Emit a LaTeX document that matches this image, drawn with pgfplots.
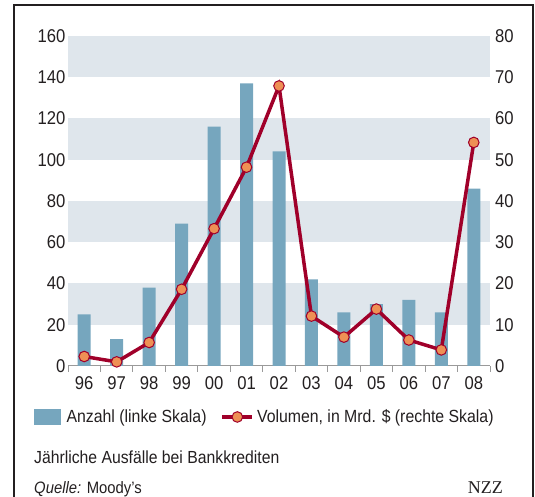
\documentclass[border=0pt]{standalone}
\usepackage{pgfplots}
\pgfplotsset{compat=1.18}
\usepackage{fontspec}
\setmainfont{Liberation Sans}[FakeStretch=0.9]
\newfontfamily\nzzfont{Liberation Serif}
\definecolor{bandcol}{HTML}{DFE6EC}
\definecolor{barcol}{HTML}{76A6BE}
\definecolor{linecol}{HTML}{A0002A}
\definecolor{markcol}{HTML}{EE9055}
\definecolor{txtcol}{HTML}{231F20}
\definecolor{axcol}{HTML}{9A9A9A}
\begin{document}
\begin{tikzpicture}[x=1pt,y=1pt]
\useasboundingbox (0,0) rectangle (535,497);
\draw[line width=2pt, color=txtcol] (14,0) -- (14,492) -- (532.5,492) -- (532.5,0);
\begin{axis}[
  at={(68pt,131pt)}, anchor=south west, scale only axis,
  width=422pt, height=330pt,
  xmin=-0.5, xmax=12.5, ymin=0, ymax=160,
  axis lines*=left,
  y axis line style={draw=none},
  x axis line style={draw=axcol, line width=1pt},
  tick align=outside,
  xtick={0,...,12},
  xticklabels={96,97,98,99,00,01,02,03,04,05,06,07,08},
  minor xtick={-0.5,0.5,...,12.5},
  major tick length=0pt,
  minor tick length=6pt,
  x tick style={draw=axcol, line width=1pt},
  ytick={0,20,...,160},
  /pgf/number format/assume math mode=true,
  ticklabel style={font=\fontsize{18.5}{20}\selectfont, text=txtcol},
  yticklabel style={inner sep=0pt, xshift=-2.3pt},
  xticklabel style={inner sep=0pt, yshift=-10.7pt},
]
\fill[bandcol] (axis cs:-0.5,20) rectangle (axis cs:12.5,40);
\fill[bandcol] (axis cs:-0.5,60) rectangle (axis cs:12.5,80);
\fill[bandcol] (axis cs:-0.5,100) rectangle (axis cs:12.5,120);
\fill[bandcol] (axis cs:-0.5,140) rectangle (axis cs:12.5,160);
\addplot[ybar, bar width=13pt, fill=barcol, draw=none] coordinates {
(0,25) (1,13) (2,38) (3,69) (4,116) (5,137) (6,104) (7,42) (8,26) (9,30) (10,32) (11,26) (12,86)};
\end{axis}
\begin{axis}[
  at={(68pt,131pt)}, anchor=south west, scale only axis,
  width=422pt, height=330pt,
  xmin=-0.5, xmax=12.5, ymin=0, ymax=80,
  axis x line=none,
  axis y line*=right,
  y axis line style={draw=none},
  major tick length=0pt,
  ytick={0,10,...,80},
  clip=false,
  /pgf/number format/assume math mode=true,
  ticklabel style={font=\fontsize{18.5}{20}\selectfont, text=txtcol},
  yticklabel style={inner sep=0pt, xshift=5pt},
  legend columns=2,
  legend style={at={(-0.0806,-0.1545)}, anchor=west, draw=none, fill=none,
    inner sep=0pt, font=\fontsize{17.6}{20}\selectfont, text=txtcol,
    nodes={inner xsep=3pt, inner ysep=0pt},
    /tikz/every even column/.append style={column sep=11pt}},
  legend cell align=left,
]
\addlegendimage{legend image code/.code={\fill[barcol] (0pt,-7.5pt) rectangle (26pt,7.5pt); \path (29pt,0pt);}}
\addlegendentry{Anzahl (linke Skala)}
\addplot[linecol, line width=3.5pt, mark=*, mark size=5.3pt,
  mark options={fill=markcol, draw=linecol, line width=1pt},
  legend image code/.code={\draw[linecol, line width=3.5pt] (0pt,0pt) -- (30pt,0pt);
    \draw[fill=markcol, draw=linecol, line width=1pt] (15pt,0pt) circle (5.3pt);}]
coordinates {
(0,2.3) (1,1.0) (2,5.7) (3,18.6) (4,33.3) (5,48.2) (6,67.9) (7,12.1) (8,7.0) (9,13.8) (10,6.3) (11,3.9) (12,54.2)};
\addlegendentry{Volumen, in Mrd. \$ (rechte Skala)}
\end{axis}
\node[anchor=base west, inner sep=0pt, text=txtcol, font=\fontsize{17.5}{20}\selectfont] at (34,33) {Jährliche Ausfälle bei Bankkrediten};
\node[anchor=base west, inner sep=0pt, text=txtcol, font=\fontsize{16.5}{20}\selectfont] at (34,3.5) {\textit{Quelle:} Moody's};
\node[anchor=base east, inner sep=0pt, text=txtcol, font=\nzzfont\fontsize{18}{20}\selectfont] at (503,3.5) {NZZ};
\end{tikzpicture}
\end{document}
